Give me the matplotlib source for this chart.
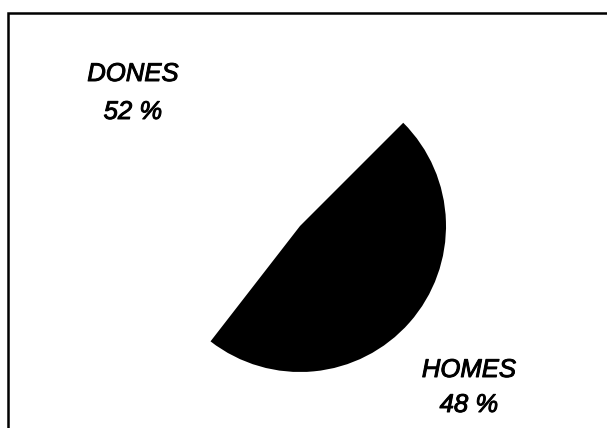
import matplotlib
matplotlib.use("Agg")
import matplotlib.pyplot as plt
from matplotlib.patches import Rectangle
import matplotlib.patheffects as pe

labels = ["DONES", "HOMES"]
values = [52, 48]
colors = ["white", "black"]

W, H = 607, 428
fig = plt.figure(figsize=(W / 100, H / 100), dpi=100)

# frame (only left and top edges visible in the reference)
fig.patches.append(Rectangle((8 / W, -0.05), 1.2, (H - 13) / H + 0.05,
                             transform=fig.transFigure, fill=False,
                             edgecolor="black", linewidth=1.8))

cx, cy, r = 300, 226, 146
ax = fig.add_axes([(cx - r) / W, (H - cy - r) / H, 2 * r / W, 2 * r / H])
ax.pie(values, colors=colors, startangle=45, counterclock=True,
       wedgeprops=dict(linewidth=0))
ax.set_xlim(-1, 1)
ax.set_ylim(-1, 1)
ax.set_aspect("equal")
ax.axis("off")

def px(x, y):
    return ((x - cx) / r, (cy - y) / r)

label_pos = [(133, 74, 112), (469, 370, 405)]
font = dict(family="Liberation Sans", style="italic", fontsize=18.5,
            ha="center", va="center", clip_on=False,
            path_effects=[pe.withStroke(linewidth=0.7, foreground="black")])
for lab, val, (x, y1, y2) in zip(labels, values, label_pos):
    ax.text(*px(x, y1), lab, **font)
    ax.text(*px(x, y2), f"{val} %", **font)

fig.savefig("out.png", dpi=100)
